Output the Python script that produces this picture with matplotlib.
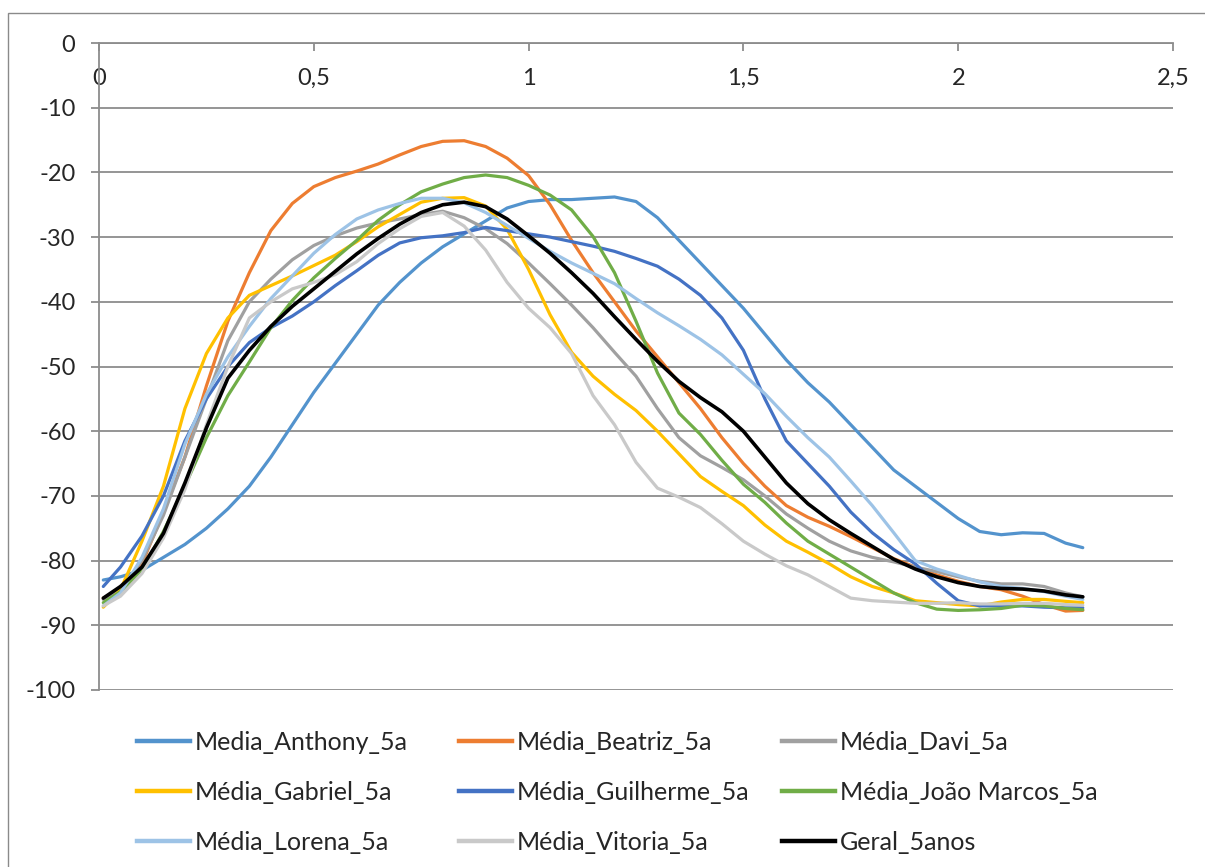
import matplotlib
matplotlib.use("Agg")
import matplotlib.pyplot as plt
from matplotlib.lines import Line2D
from matplotlib.patches import Rectangle

# ---------------- data ----------------
x = [0.01, 0.05, 0.1, 0.15, 0.2, 0.25, 0.3, 0.35, 0.4, 0.45, 0.5, 0.55, 0.6, 0.65,
     0.7, 0.75, 0.8, 0.85, 0.9, 0.95, 1.0, 1.05, 1.1, 1.15, 1.2, 1.25, 1.3, 1.35,
     1.4, 1.45, 1.5, 1.55, 1.6, 1.65, 1.7, 1.75, 1.8, 1.85, 1.9, 1.95, 2.0, 2.05,
     2.1, 2.15, 2.2, 2.25, 2.29]

anthony = [-83, -82.5, -81.5, -79.5, -77.5, -75, -72, -68.5, -64, -59, -54, -49.5,
           -45, -40.5, -37, -34, -31.5, -29.5, -27.5, -25.5, -24.5, -24.2, -24.2, -24,
           -23.8, -24.5, -27, -30.5, -34, -37.5, -41, -45, -49, -52.5, -55.5, -59,
           -62.5, -66, -68.5, -71, -73.5, -75.5, -76, -75.7, -75.8, -77.3, -78]
beatriz = [-85.8, -84.5, -80.5, -72.5, -64, -53, -43, -35.5, -29, -24.8, -22.2, -20.8,
           -19.8, -18.7, -17.3, -16, -15.2, -15.1, -16, -17.8, -20.5, -25, -30.5, -35.5,
           -40, -44.5, -48.5, -52.5, -56.5, -61, -65, -68.5, -71.5, -73.3, -74.7, -76.3,
           -78, -79.7, -81, -82.2, -83.2, -84, -84.5, -85.5, -86.8, -87.8, -87.7]
davi = [-86, -84.5, -80, -73, -64, -55, -46, -40, -36.5, -33.5, -31.3, -29.8, -28.6,
        -27.8, -27.2, -26.5, -26, -27, -28.7, -31, -34, -37.2, -40.5, -44, -47.8, -51.5,
        -56.5, -61, -63.8, -65.6, -67.5, -70, -72.8, -75, -77, -78.5, -79.5, -80.2, -81,
        -81.7, -82.5, -83.2, -83.6, -83.6, -84, -85, -85.6]
gabriel = [-87.2, -84.5, -77, -68.5, -56.5, -48, -42.5, -39, -37.5, -36, -34.4, -32.8,
           -30.7, -28.4, -26.5, -24.6, -24, -23.9, -25.2, -28.8, -35, -42, -47.8, -51.5,
           -54.3, -56.8, -60, -63.5, -67, -69.3, -71.5, -74.5, -77, -78.7, -80.5, -82.5,
           -84, -85, -86.2, -86.5, -86.8, -87, -86.4, -86, -86, -86.3, -86.5]
guilherme = [-84, -81, -76.2, -70, -61.5, -55, -50, -46.3, -44, -42.2, -40, -37.5, -35.2,
             -32.8, -30.9, -30.1, -29.8, -29.3, -28.5, -29, -29.5, -30, -30.7, -31.4,
             -32.2, -33.3, -34.5, -36.5, -39, -42.5, -47.5, -55, -61.5, -65, -68.5, -72.5,
             -75.7, -78.3, -80.5, -83.5, -86.2, -87, -87, -87, -87.2, -87.3, -87.3]
joao_marcos = [-86.5, -84.8, -81.5, -75.5, -68.5, -61, -54.5, -49.3, -44, -39.8, -36.3,
               -33.3, -30.5, -27.4, -25, -23, -21.8, -20.8, -20.4, -20.8, -22, -23.5,
               -25.8, -29.9, -35.5, -43, -51, -57.2, -60.5, -64.5, -68.2, -71, -74.2, -77,
               -79, -81, -83, -85, -86.5, -87.5, -87.7, -87.6, -87.4, -86.9, -87, -87.4,
               -87.6]
lorena = [-87, -85, -79.5, -72, -62, -54.3, -48.5, -43.8, -39.5, -36, -32.5, -29.6, -27.2,
          -25.8, -24.8, -24, -24, -24.7, -26.2, -28.2, -30.2, -32.2, -34, -35.6, -37.2,
          -39.5, -41.7, -43.7, -45.8, -48.2, -51.2, -54.2, -57.7, -61, -64, -67.7, -71.5,
          -75.7, -80, -81.3, -82.3, -83.3, -84, -84.3, -84.8, -85.5, -86]
vitoria = [-87, -85.5, -82, -76.5, -69, -59, -50, -42.5, -40, -38, -37, -35.8, -33.8, -31,
           -28.7, -26.8, -26.2, -28.3, -32, -37, -41, -44, -48, -54.5, -59, -64.8, -68.8,
           -70.2, -71.8, -74.3, -77, -79, -80.8, -82.2, -84, -85.8, -86.2, -86.4, -86.6,
           -86.6, -86.5, -86.7, -86.7, -86.6, -86.6, -86.8, -86.9]
geral = [-85.8, -84, -81, -75.8, -68, -59.5, -51.8, -47.5, -43.8, -40.7, -38, -35.3, -32.6,
         -30.2, -28, -26.2, -25, -24.6, -25.3, -27.2, -29.8, -32.5, -35.5, -38.7, -42.3,
         -45.8, -49.2, -52.3, -54.8, -57, -60, -64, -68, -71.2, -73.7, -75.8, -77.8, -79.8,
         -81.3, -82.5, -83.4, -84, -84.3, -84.4, -84.7, -85.3, -85.6]

series_names = ["Media_Anthony_5a", "Média_Beatriz_5a", "Média_Davi_5a",
                "Média_Gabriel_5a", "Média_Guilherme_5a", "Média_João Marcos_5a",
                "Média_Lorena_5a", "Média_Vitoria_5a", "Geral_5anos"]
series_values = [anthony, beatriz, davi, gabriel, guilherme, joao_marcos,
                 lorena, vitoria, geral]
series_colors = ["#5393cd", "#ED7D31", "#A0A0A0", "#FFC000", "#4472C4", "#70AD47",
                 "#9DC3E6", "#C9C9C9", "#000000"]

xticks = [0, 0.5, 1, 1.5, 2, 2.5]
xtick_labels = ["0", "0,5", "1", "1,5", "2", "2,5"]
yticks = [-100, -90, -80, -70, -60, -50, -40, -30, -20, -10, 0]
ytick_labels = [str(v) for v in yticks]

# ---------------- figure ----------------
plt.rcParams["font.family"] = ["Lato", "DejaVu Sans"]
W, H = 1205, 867
fig = plt.figure(figsize=(W / 100, H / 100), dpi=100)
fig.patch.set_facecolor("white")

# chart-area border (only top and left visible)
fig.patches.append(Rectangle((8 / W, -0.05), 1.2, (1 - 13 / H) + 0.05,
                             transform=fig.transFigure, fill=False,
                             edgecolor="#8a8a8a", linewidth=1.0))

ax = fig.add_axes([99 / W, 1 - 690 / H, 1074 / W, 647 / H])
ax.set_xlim(0, 2.5)
ax.set_ylim(-100, 0)

axis_color = "#8c8c8c"
for yv in yticks:
    ax.axhline(yv, color=axis_color, linewidth=1.3, zorder=0)

lines = []
for name, vals, col in zip(series_names, series_values, series_colors):
    ln, = ax.plot(x, vals, color=col, linewidth=2.3 if name != "Geral_5anos" else 2.6,
                  solid_capstyle="round", solid_joinstyle="round", label=name)
    lines.append(ln)

for s in ["right", "bottom"]:
    ax.spines[s].set_visible(False)
for s in ["left", "top"]:
    ax.spines[s].set_color(axis_color)
    ax.spines[s].set_linewidth(1.3)

ax.xaxis.set_ticks_position("top")
ax.set_xticks(xticks)
ax.set_xticklabels(xtick_labels)
ax.tick_params(axis="x", direction="in", length=6, width=1.3, color=axis_color,
               labelsize=17, pad=-33, labelcolor="#262626")
ax.set_yticks(yticks)
ax.set_yticklabels(ytick_labels)
ax.tick_params(axis="y", direction="out", length=6, width=1.3, color=axis_color,
               labelsize=17, pad=11, labelcolor="#262626")

# legend: three columns placed like the reference (row-wise order)
col_x = [137, 459, 782]
for c in range(3):
    idx = [c, c + 3, c + 6]
    hs = [Line2D([], [], color=series_colors[i], linewidth=3.2) for i in idx]
    ls = [series_names[i] for i in idx]
    fig.legend(hs, ls, loc="upper left", bbox_to_anchor=(col_x[c] / W, 1 - 731 / H),
               frameon=False, fontsize=18, handlelength=2.1, handletextpad=0.2,
               borderpad=0, borderaxespad=0, labelspacing=1.07, labelcolor="#262626")

fig.savefig("out.png", dpi=100, facecolor="white")
